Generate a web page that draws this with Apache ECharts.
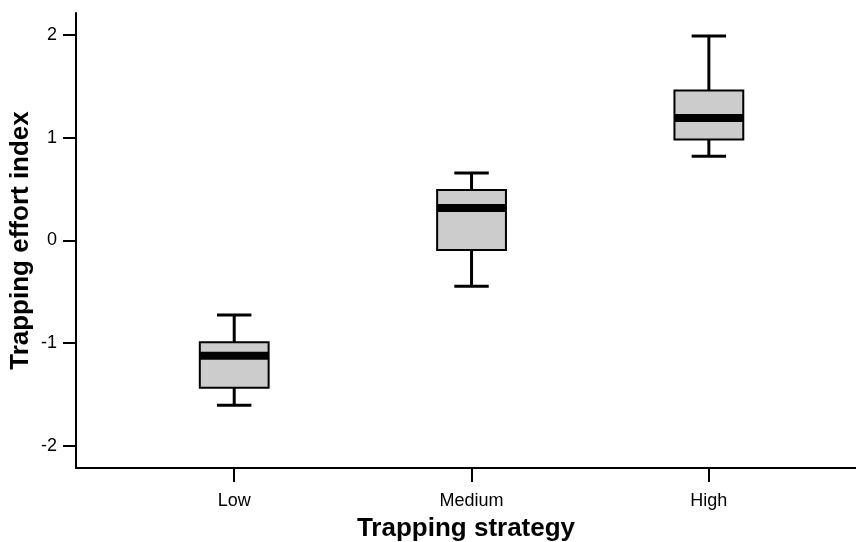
<!DOCTYPE html>
<html>
<head>
<meta charset="utf-8">
<script src="https://cdn.jsdelivr.net/npm/echarts@6/dist/echarts.min.js"></script>
<style>html,body{margin:0;padding:0;background:#fff}#c{width:856px;height:542px}</style>
</head>
<body>
<div id="c"></div>
<script>
var categories = ['Low', 'Medium', 'High'];
var whiskerLow = [-1.607, -0.446, 0.819];
var q1 = [-1.435, -0.095, 0.982];
var median = [-1.125, 0.316, 1.191];
var q3 = [-0.992, 0.491, 1.459];
var whiskerHigh = [-0.728, 0.657, 1.99];
var yTicks = [-2, -1, 0, 1, 2];
var xTicks = [1, 2, 3];

var data = categories.map(function (c, i) {
  return [i + 1, whiskerLow[i], q1[i], median[i], q3[i], whiskerHigh[i]];
});

var FONT = 'Liberation Sans, Arial, sans-serif';
var chart = echarts.init(document.getElementById('c'), null, {renderer: 'canvas'});

function renderItem(params, api) {
  var x = api.value(0);
  var pLow = api.coord([x, api.value(1)]);
  var pQ1 = api.coord([x, api.value(2)]);
  var pMed = api.coord([x, api.value(3)]);
  var pQ3 = api.coord([x, api.value(4)]);
  var pHigh = api.coord([x, api.value(5)]);
  var bw = api.size([0.29, 0])[0];
  var cw = bw / 2;
  var cx = pLow[0];
  var lineStyle = {stroke: '#000', lineWidth: 3, fill: null};
  return {
    type: 'group',
    children: [
      {type: 'line', shape: {x1: cx, y1: pLow[1], x2: cx, y2: pQ1[1]}, style: lineStyle},
      {type: 'line', shape: {x1: cx, y1: pQ3[1], x2: cx, y2: pHigh[1]}, style: lineStyle},
      {type: 'line', shape: {x1: cx - cw / 2, y1: pLow[1], x2: cx + cw / 2, y2: pLow[1]}, style: lineStyle},
      {type: 'line', shape: {x1: cx - cw / 2, y1: pHigh[1], x2: cx + cw / 2, y2: pHigh[1]}, style: lineStyle},
      {type: 'rect', shape: {x: cx - bw / 2, y: pQ3[1], width: bw, height: pQ1[1] - pQ3[1]},
        style: {fill: '#cccccc', stroke: '#000', lineWidth: 2}},
      {type: 'line', shape: {x1: cx - bw / 2, y1: pMed[1], x2: cx + bw / 2, y2: pMed[1]},
        style: {stroke: '#000', lineWidth: 8}}
    ]
  };
}

chart.setOption({
  animation: false,
  backgroundColor: '#fff',
  grid: {left: 76, right: 0, top: 13, bottom: 74, containLabel: false, outerBoundsMode: 'none'},
  xAxis: {
    type: 'value',
    min: 1 / 3,
    max: 3.62,
    name: 'Trapping strategy',
    nameLocation: 'middle',
    nameGap: 48,
    nameMoveOverlap: false,
    nameTextStyle: {fontFamily: FONT, fontSize: 26, fontWeight: 'bold', color: '#000'},
    axisLine: {show: true, onZero: false, lineStyle: {color: '#000', width: 2}},
    axisTick: {show: true, length: 14, lineStyle: {color: '#000', width: 2}, customValues: xTicks},
    axisLabel: {fontFamily: FONT, fontSize: 18, color: '#000', margin: 24, customValues: xTicks,
      formatter: function (v) { return categories[Math.round(v) - 1] || ''; }},
    splitLine: {show: false}
  },
  yAxis: {
    type: 'value',
    min: -2.217,
    max: 2.214,
    name: 'Trapping effort index',
    nameLocation: 'middle',
    nameGap: 42,
    nameMoveOverlap: false,
    nameRotate: 90,
    nameTextStyle: {fontFamily: FONT, fontSize: 26, fontWeight: 'bold', color: '#000'},
    axisLine: {show: true, onZero: false, lineStyle: {color: '#000', width: 2}},
    axisTick: {show: true, length: 13, lineStyle: {color: '#000', width: 2}, customValues: yTicks},
    axisLabel: {fontFamily: FONT, fontSize: 18, color: '#000', margin: 19, customValues: yTicks,
      formatter: function (v) { return String(v); }},
    splitLine: {show: false}
  },
  series: [{
    type: 'custom',
    renderItem: renderItem,
    encode: {x: 0, y: [1, 2, 3, 4, 5]},
    data: data,
    clip: false
  }]
});
</script>
</body>
</html>
